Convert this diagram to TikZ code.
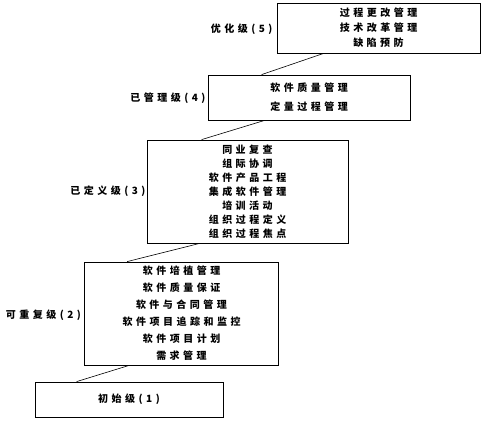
\documentclass[tikz,border=0pt]{standalone}
\usepackage{fontspec}
\newfontfamily\cjk[LetterSpace=35]{Noto Sans CJK SC}
\usetikzlibrary{positioning,calc}

\begin{document}
\begin{tikzpicture}[
    x=1pt,y=-1pt,
    rows/.style={font=\cjk\bfseries\fontsize{10}{#1}\selectfont},
    level box/.style n args={2}{draw=black,line width=0.8pt,inner sep=0pt,
        minimum width=#1,minimum height=#2,align=center},
    level name/.style={rows=12,inner sep=0pt,anchor=east},
    step link/.style={draw=black,line width=0.6pt}
]
    \useasboundingbox (0,0) rectangle (487,421);

    % CMM maturity levels, top to bottom
    \node[level box={203}{50},rows=15] (l5) at (378.5,28)
        {过程更改管理\\技术改革管理\\缺陷预防};
    \node[level box={202}{45},rows=19] (l4) at (309,97.5)
        {软件质量管理\\定量过程管理};
    \node[level box={201}{103},rows=14] (l3) at (247.5,191.5)
        {同业复查\\组际协调\\软件产品工程\\集成软件管理\\培训活动\\组织过程定义\\组织过程焦点};
    \node[level box={194}{103},rows=17] (l2) at (181.5,313.5)
        {软件培植管理\\软件质量保证\\软件与合同管理\\软件项目追踪和监控\\软件项目计划\\需求管理};
    \node[level box={188}{35},rows=15] (l1) at (129,399.5) {初始级(1)};

    \node[level name] (n5) at ($(l5.west)+(-4,1)$) {优化级(5)};
    \node[level name] (n4) at ($(l4.west)+(-2,1)$) {已管理级(4)};
    \node[level name] (n3) at ($(l3.west)+(-1,0)$) {已定义级(3)};
    \node[level name] (n2) at ($(l2.west)+(-3,2)$) {可重复级(2)};

    % steps between levels
    \draw[step link] ($(l5.south west)+(47,0)$) -- ($(l4.north west)+(54,0)$);
    \draw[step link] ($(l4.south west)+(57,0)$) -- ($(l3.north west)+(55,0)$);
    \draw[step link] ($(l3.south west)+(53,0)$) -- ($(l2.north west)+(43,0)$);
    \draw[step link] ($(l2.south west)+(45,0)$) -- ($(l1.north west)+(42,0)$);
\end{tikzpicture}
\end{document}
